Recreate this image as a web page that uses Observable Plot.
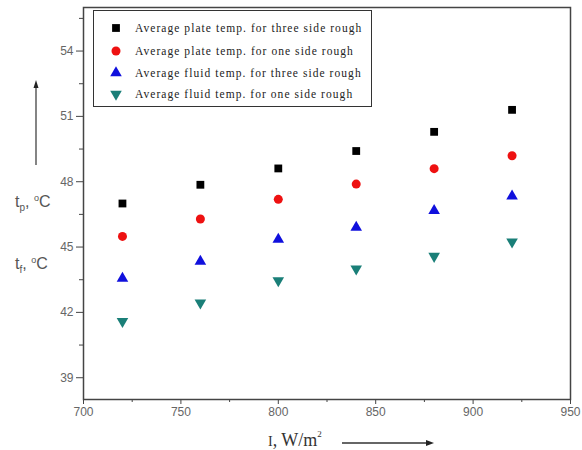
<!DOCTYPE html>
<html><head><meta charset="utf-8">
<script src="https://cdn.jsdelivr.net/npm/d3@7"></script>
<script src="https://cdn.jsdelivr.net/npm/@observablehq/plot@0.6"></script>
<style>
body{margin:0;background:#fff}
#c{position:relative;width:582px;height:450px;overflow:hidden}
#c svg{display:block}
.leg{position:absolute;left:93px;top:10px;width:279px;height:97px;border:1.3px solid #333;box-sizing:border-box;background:#fff;font-family:"Liberation Serif","Times New Roman",serif;font-size:11.5px;letter-spacing:1.05px;color:#222}
.leg .row{position:absolute;left:0;height:14px;white-space:nowrap}
.leg .row span{position:absolute;left:41px;top:0;line-height:14px}
.leg .row svg{position:absolute;left:15px;top:0}
.lab{position:absolute;font-family:"Liberation Sans",Arial,sans-serif;font-size:16px;color:#555;white-space:nowrap}
.lab sub{font-size:10px;vertical-align:-4px}
.lab sup{font-size:9px;vertical-align:6px}
.xl{position:absolute;font-family:"Liberation Serif","Times New Roman",serif;font-size:18px;color:#333;white-space:nowrap}
.xl sup{font-size:9px;vertical-align:9px}
.xl .i{font-size:14px}
</style>
</head><body><div id="c"></div>
<script>
const intensity = [720, 760, 800, 840, 880, 920];
const plate3 = [47.00, 47.86, 48.61, 49.41, 50.29, 51.30];
const plate1 = [45.49, 46.29, 47.19, 47.89, 48.60, 49.19];
const fluid3 = [43.56, 44.34, 45.35, 45.90, 46.67, 47.34];
const fluid1 = [41.59, 42.44, 43.46, 44.00, 44.58, 45.24];
const seriesNames = [
  "Average plate temp. for three side rough",
  "Average plate temp. for one side rough",
  "Average fluid temp. for three side rough",
  "Average fluid temp. for one side rough"
];
const xTicks = [700, 750, 800, 850, 900, 950];
const xMinor = [725, 775, 825, 875, 925];
const yTicks = [39, 42, 45, 48, 51, 54];
const yMinor = [40.5, 43.5, 46.5, 49.5, 52.5, 55.5];

const triDown = {
  draw(ctx, size) {
    const s = Math.sqrt(4 * size / Math.sqrt(3));
    const h = s * Math.sqrt(3) / 2;
    ctx.moveTo(0, 2 * h / 3);
    ctx.lineTo(-s / 2, -h / 3);
    ctx.lineTo(s / 2, -h / 3);
    ctx.closePath();
  }
};
const seriesStyle = [
  {vals: plate3, symbol: d3.symbolSquare, color: "#000000", r: 4.4},
  {vals: plate1, symbol: d3.symbolCircle, color: "#ee1111", r: 4.5},
  {vals: fluid3, symbol: d3.symbolTriangle, color: "#1010dd", r: 4.3},
  {vals: fluid1, symbol: triDown, color: "#1a7f78", r: 4.3}
];

const data = [];
seriesStyle.forEach((s, i) => intensity.forEach((x, j) => data.push({x, y: s.vals[j], k: i})));

const chart = Plot.plot({
  width: 582, height: 450,
  marginLeft: 83, marginRight: 12, marginTop: 7, marginBottom: 51,
  x: {domain: [700, 950]},
  y: {domain: [38, 56]},
  style: {fontFamily: "'Liberation Sans', Arial, sans-serif", fontSize: "12px", color: "#666", background: "#fff"},
  marks: [
    Plot.axisX({ticks: xTicks, tickSize: 5, tickPadding: 3, label: null, stroke: "#444", tickFormat: d => String(d)}),
    Plot.axisX({ticks: xMinor, tickSize: 3, label: null, stroke: "#444", tickFormat: () => ""}),
    Plot.axisY({ticks: yTicks, tickSize: 7, tickPadding: 3, label: null, stroke: "#444", tickFormat: d => String(d)}),
    Plot.axisY({ticks: yMinor, tickSize: 4, label: null, stroke: "#444", tickFormat: () => ""}),
    Plot.frame({stroke: "#444", strokeWidth: 1.5}),
    ...seriesStyle.map((s, i) => Plot.dot(data.filter(d => d.k === i), {
      x: "x", y: "y", r: s.r, symbol: () => s.symbol, fill: s.color, stroke: "none"
    }))
  ]
});
const c = document.getElementById("c");
c.appendChild(chart);

// decorations: arrows
const svg = d3.select(chart);
svg.append("line").attr("x1", 36).attr("y1", 165).attr("x2", 36).attr("y2", 86).attr("stroke", "#333").attr("stroke-width", 1.2);
svg.append("path").attr("d", "M36,80 L33.5,88 L38.5,88 Z").attr("fill", "#222");
svg.append("line").attr("x1", 342).attr("y1", 443).attr("x2", 427).attr("y2", 443).attr("stroke", "#333").attr("stroke-width", 1.3);
svg.append("path").attr("d", "M434,443 L426,440 L426,446 Z").attr("fill", "#222");

// legend
const leg = document.createElement("div");
leg.className = "leg";
const rowTops = [10, 33, 55, 76];
seriesStyle.forEach((s, i) => {
  const row = document.createElement("div");
  row.className = "row";
  row.style.top = rowTops[i] + "px";
  const ns = "http://www.w3.org/2000/svg";
  const sv = document.createElementNS(ns, "svg");
  sv.setAttribute("width", 14); sv.setAttribute("height", 14);
  const p = document.createElementNS(ns, "path");
  p.setAttribute("d", d3.symbol(s.symbol, Math.PI * s.r * s.r)());
  p.setAttribute("transform", "translate(7,7)");
  p.setAttribute("fill", s.color);
  sv.appendChild(p);
  row.appendChild(sv);
  const t = document.createElement("span");
  t.textContent = seriesNames[i];
  row.appendChild(t);
  leg.appendChild(row);
});
c.appendChild(leg);

// axis titles
const l1 = document.createElement("div");
l1.className = "lab"; l1.style.left = "15px"; l1.style.top = "193px";
l1.innerHTML = "t<sub>p</sub>, <sup>o</sup>C";
c.appendChild(l1);
const l2 = document.createElement("div");
l2.className = "lab"; l2.style.left = "15px"; l2.style.top = "255px";
l2.innerHTML = "t<sub>f</sub>, <sup>o</sup>C";
c.appendChild(l2);
const xl = document.createElement("div");
xl.className = "xl"; xl.style.left = "268px"; xl.style.top = "429px";
xl.innerHTML = "<span class='i'>I</span>, W/m<sup>2</sup>";
c.appendChild(xl);
</script>
</body></html>
